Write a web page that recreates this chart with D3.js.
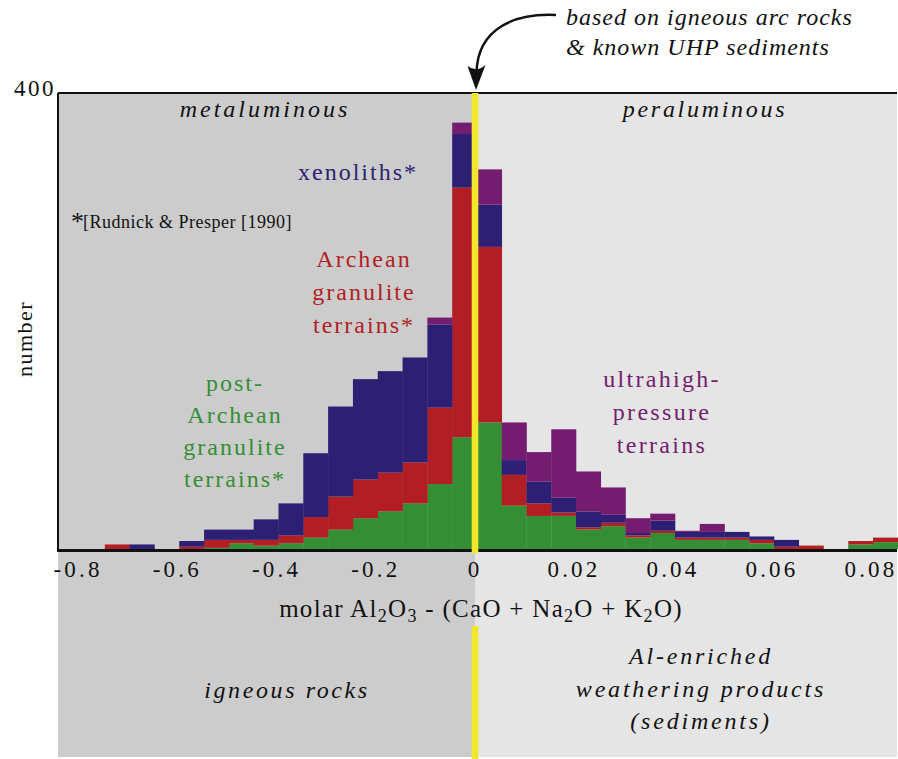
<!DOCTYPE html>
<html>
<head>
<meta charset="utf-8">
<script src="https://cdn.jsdelivr.net/npm/d3@7/dist/d3.min.js"></script>
<style>
  body { margin: 0; background: #fff; }
  text { font-family: "Liberation Serif", "Times New Roman", serif; }
</style>
</head>
<body>
<div id="chart"></div>
<script>
// bin left edges; metaluminous side uses 0.05 bins, peraluminous side 0.005 bins
const leftBins = [-0.80, -0.75, -0.70, -0.65, -0.60, -0.55, -0.50, -0.45,
  -0.40, -0.35, -0.30, -0.25, -0.20, -0.15, -0.10, -0.05];
const rightBins = [0, 0.005, 0.01, 0.015, 0.02, 0.025, 0.03, 0.035, 0.04,
  0.045, 0.05, 0.055, 0.06, 0.065, 0.07, 0.075, 0.08];

// counts per bin, stacked bottom to top
const postArchean = [0, 0, 0, 0, 0, 1, 5, 3, 5, 10, 17, 27, 33, 40, 57, 98,
  111, 38, 29, 29, 17, 20, 10, 14, 8, 8, 8, 5, 0, 0, 0, 4, 6];
const archean = [0, 4, 0, 0, 2, 7, 3, 5, 7, 18, 29, 34, 34, 36, 67, 219,
  154, 27, 11, 3, 2, 3, 2, 2, 2, 2, 2, 3, 2, 3, 0, 3, 4];
const xenoliths = [0, 0, 4, 0, 5, 9, 9, 18, 28, 56, 79, 88, 89, 92, 73, 47,
  37, 13, 19, 13, 14, 7, 2, 9, 5, 5, 5, 3, 6, 0, 0, 0, 0];
const uhp = [0, 0, 0, 0, 0, 0, 0, 0, 0, 0, 0, 0, 0, 0, 6, 10,
  31, 33, 26, 60, 35, 24, 13, 6, 1, 7, 0, 0, 0, 0, 0, 0, 0];

const xTicks = [-0.8, -0.6, -0.4, -0.2, 0, 0.02, 0.04, 0.06, 0.08];
const yTicks = [400];

const keys = ['post', 'archean', 'xeno', 'uhp'];
const colours = { post: '#348f34', archean: '#b11e24', xeno: '#2c1f74', uhp: '#741c6f' };

const W = 898, H = 759;
const plotLeft = 58, plotRight = 897, plotTop = 93, plotBottom = 549, panelBottom = 757;

const svg = d3.select('#chart').append('svg')
  .attr('width', W)
  .attr('height', H);

// split scale: the two sides of zero have different units
const x = d3.scaleLinear()
  .domain([-0.8, 0, 0.08])
  .range([80, 477, 873]);
const y = d3.scaleLinear()
  .domain([0, 400])
  .range([plotBottom, plotTop]);

const rows = leftBins.map((s) => ({ start: s, end: s + 0.05 }))
  .concat(rightBins.map((s) => ({ start: s, end: s + 0.005 })));
rows.forEach((r, i) => {
  r.post = postArchean[i];
  r.archean = archean[i];
  r.xeno = xenoliths[i];
  r.uhp = uhp[i];
});

const stacked = d3.stack().keys(keys)(rows);

const split = x(0) - 2;

// background panels
svg.append('rect')
  .attr('x', plotLeft).attr('y', plotTop)
  .attr('width', split - plotLeft).attr('height', panelBottom - plotTop)
  .attr('fill', '#cccccc');
svg.append('rect')
  .attr('x', split).attr('y', plotTop)
  .attr('width', plotRight - split).attr('height', panelBottom - plotTop)
  .attr('fill', '#e5e5e5');

// bars
svg.append('g')
  .selectAll('g')
  .data(stacked)
  .join('g')
  .attr('fill', (d) => colours[d.key])
  .selectAll('rect')
  .data((d) => d.filter((v) => v[1] > v[0]))
  .join('rect')
  .attr('x', (d) => x(d.data.start))
  .attr('width', (d) => x(d.data.end) - x(d.data.start) + 0.3)
  .attr('y', (d) => y(d[1]))
  .attr('height', (d) => y(d[0]) - y(d[1]));

// frame
svg.append('line')
  .attr('x1', plotLeft).attr('x2', plotRight)
  .attr('y1', plotTop).attr('y2', plotTop)
  .attr('stroke', '#111').attr('stroke-width', 2);
svg.append('line')
  .attr('x1', plotLeft).attr('x2', plotLeft)
  .attr('y1', plotTop).attr('y2', plotBottom + 2)
  .attr('stroke', '#111').attr('stroke-width', 2);
svg.append('line')
  .attr('x1', plotLeft - 1).attr('x2', plotRight)
  .attr('y1', plotBottom + 1.5).attr('y2', plotBottom + 1.5)
  .attr('stroke', '#111').attr('stroke-width', 3);

// yellow divider
svg.append('rect')
  .attr('x', split - 3.3).attr('y', plotTop)
  .attr('width', 6.6).attr('height', plotBottom + 4 - plotTop)
  .attr('fill', '#f2e62a');
svg.append('rect')
  .attr('x', split - 3.3).attr('y', 626)
  .attr('width', 6.6).attr('height', H - 626)
  .attr('fill', '#f2e62a');

// axes
const xAxis = svg.append('g')
  .attr('transform', `translate(0,${plotBottom})`)
  .call(d3.axisBottom(x).tickValues(xTicks).tickSize(0)
    .tickFormat((d) => (d === 0 ? '0' : String(d))));
xAxis.select('.domain').remove();
xAxis.selectAll('text')
  .attr('y', 28).attr('dy', 0).attr('dx', -2.5)
  .attr('fill', '#111')
  .style('font-family', '"Liberation Serif", serif')
  .style('font-size', '23px')
  .style('letter-spacing', '3.2px');

const yAxis = svg.append('g')
  .attr('transform', `translate(${plotLeft},0)`)
  .call(d3.axisLeft(y).tickValues(yTicks).tickSize(0).tickPadding(2));
yAxis.select('.domain').remove();
yAxis.selectAll('text')
  .attr('dy', '0.1em')
  .attr('fill', '#111')
  .style('font-family', '"Liberation Serif", serif')
  .style('font-size', '23px')
  .style('letter-spacing', '2.5px');

svg.append('text')
  .attr('transform', 'translate(32,339) rotate(-90)')
  .attr('text-anchor', 'middle')
  .style('font-size', '22px')
  .style('letter-spacing', '1.5px')
  .attr('fill', '#111')
  .text('number');

// x-axis title with subscripts
const xt = svg.append('text')
  .attr('x', 481).attr('y', 617)
  .attr('text-anchor', 'middle')
  .attr('fill', '#111')
  .style('font-size', '25px')
  .style('letter-spacing', '1.3px');
const parts = [['molar Al', 0], ['2', 1], ['O', 0], ['3', 1], [' - (CaO + Na', 0], ['2', 1],
  ['O + K', 0], ['2', 1], ['O)', 0]];
let shifted = false;
parts.forEach(([t, sub]) => {
  const ts = xt.append('tspan').text(t);
  if (sub && !shifted) { ts.attr('dy', 5).style('font-size', '18px'); shifted = true; }
  else if (sub) { ts.style('font-size', '18px'); }
  else if (shifted) { ts.attr('dy', -5); shifted = false; }
});

function multiline(lines, cx, y0, lh, colour, size, spacing, italic) {
  const t = svg.append('text')
    .attr('text-anchor', 'middle')
    .attr('fill', colour)
    .style('font-size', size + 'px')
    .style('letter-spacing', spacing + 'px')
    .style('font-style', italic ? 'italic' : 'normal');
  lines.forEach((l, i) => {
    t.append('tspan').attr('x', cx).attr('y', y0 + i * lh).text(l);
  });
}

multiline(['metaluminous'], 265, 117, 0, '#111', 24, 3, true);
multiline(['peraluminous'], 705, 117, 0, '#111', 24, 2.7, true);
multiline(['xenoliths*'], 358, 180, 0, colours.xeno, 24, 2, false);
multiline(['Archean', 'granulite', 'terrains*'], 364, 267, 33, colours.archean, 24, 2, false);
multiline(['post-', 'Archean', 'granulite', 'terrains*'], 235, 391, 32, colours.post, 24, 2, false);
multiline(['ultrahigh-', 'pressure', 'terrains'], 662, 387, 33, colours.uhp, 24, 2.3, false);
multiline(['igneous rocks'], 287, 698, 0, '#111', 24, 2.6, true);
multiline(['Al-enriched', 'weathering products', '(sediments)'], 701, 664, 32.5, '#111', 24, 2.8, true);

// footnote
svg.append('text')
  .attr('x', 71).attr('y', 230)
  .attr('fill', '#111')
  .style('font-size', '26px')
  .text('*');
svg.append('text')
  .attr('x', 83).attr('y', 228)
  .attr('fill', '#111')
  .style('font-size', '18px')
  .style('letter-spacing', '0.5px')
  .text('[Rudnick & Presper [1990]');

// annotation + arrow
svg.append('text')
  .attr('fill', '#111')
  .style('font-size', '24px')
  .style('font-style', 'italic')
  .style('letter-spacing', '1px')
  .selectAll('tspan')
  .data(['based on igneous arc rocks', '& known UHP sediments'])
  .join('tspan')
  .attr('x', 566)
  .attr('y', (d, i) => 25 + i * 30)
  .text((d) => d);

svg.append('path')
  .attr('d', 'M556,15 C515,13 478,28 476.5,72')
  .attr('fill', 'none')
  .attr('stroke', '#111')
  .attr('stroke-width', 2.5);
svg.append('path')
  .attr('d', 'M476,90 L467.5,66 Q476.5,73 485.5,65 Z')
  .attr('fill', '#111');
</script>
</body>
</html>
